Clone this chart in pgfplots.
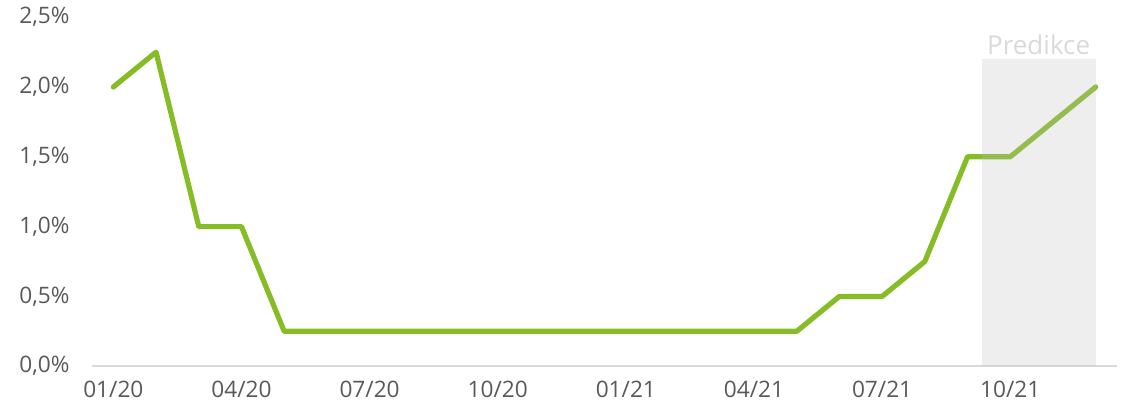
\documentclass[border=0pt]{standalone}
\usepackage{fontspec}
\setmainfont{Open Sans}
\usepackage{pgfplots}
\pgfplotsset{compat=1.18}

\definecolor{linegreen}{HTML}{86BC25}
\definecolor{labelgray}{HTML}{595959}
\definecolor{predgray}{HTML}{D9D9D9}
\definecolor{shadegray}{HTML}{BFBFBF}
\definecolor{axisgray}{HTML}{D9D9D9}

\begin{document}
\fontsize{17}{20}\selectfont
\begin{tikzpicture}
  \begin{axis}[
    name=ax,
    width=768.75pt,
    height=261.75pt,
    scale only axis,
    xmin=-0.5, xmax=23.5,
    ymin=0, ymax=2.5,
    clip=false,
    axis x line*=bottom,
    axis y line*=left,
    axis line style={-},
    x axis line style={draw=axisgray, line width=1.1pt},
    y axis line style={draw=none},
    major tick length=0pt,
    xtick={0,3,6,9,12,15,18,21},
    xticklabels={01/20,04/20,07/20,10/20,01/21,04/21,07/21,10/21},
    ytick={0,0.5,1,1.5,2,2.5},
    yticklabels={{0,0\%},{0,5\%},{1,0\%},{1,5\%},{2,0\%},{2,5\%}},
    ticklabel style={font=\fontsize{17}{20}\selectfont, text=labelgray},
    yticklabel style={anchor=east, xshift=-11pt},
    xticklabel style={anchor=north, yshift=-5.5pt},
  ]
    % rate series, monthly 01/20 .. 12/21
    \addplot[linegreen, line width=3.9pt, line join=round, line cap=round, mark=none]
    coordinates {
      (0,2.0) (1,2.25) (2,1.0) (3,1.0) (4,0.25) (5,0.25) (6,0.25) (7,0.25)
      (8,0.25) (9,0.25) (10,0.25) (11,0.25) (12,0.25) (13,0.25) (14,0.25)
      (15,0.25) (16,0.25) (17,0.5) (18,0.5) (19,0.75) (20,1.5) (21,1.5)
      (22,1.75) (23,2.0)
    };
    % forecast band
    \addplot[fill=shadegray, draw=none, fill opacity=0.265]
    coordinates {(20.33,0) (20.33,2.2) (23,2.2) (23,0)} -- cycle;
    \node[anchor=base, text=predgray, inner sep=0pt, yshift=3.75pt,
      font=\fontsize{19.5}{22}\selectfont]
      at (axis cs:21.665,2.2) {Predikce};
  \end{axis}
  \path ([xshift=-69pt,yshift=-33.75pt]ax.south west)
    rectangle ([xshift=5.25pt,yshift=12.75pt]ax.north east);
\end{tikzpicture}
\end{document}
